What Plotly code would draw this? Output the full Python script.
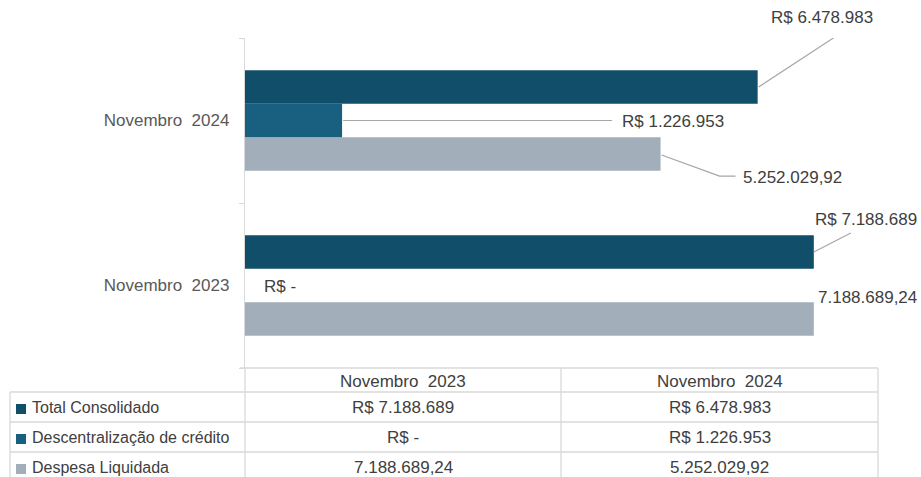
import plotly.graph_objects as go

# dados
meses = ['Novembro  2023', 'Novembro  2024']
total_consolidado = [7188689, 6478983]
descentralizacao = [0, 1226953]
despesa_liquidada = [7188689.24, 5252029.92]

txt_total = ['R$ 7.188.689', 'R$ 6.478.983']
txt_desc = ['R$ -', 'R$ 1.226.953']
txt_despesa = ['7.188.689,24', '5.252.029,92']
series = ['Total Consolidado', 'Descentralização de crédito', 'Despesa Liquidada']

cor_total = '#114e69'
cor_desc = '#195f80'
cor_despesa = '#a2afba'
cores = [cor_total, cor_desc, cor_despesa]
cinza = '#d9d9d9'
fonte = 'Liberation Sans, Arial, sans-serif'

W, H = 921, 477


def px(x):
    return x / W


def py(y):
    return 1 - y / H


bargap = 0.39
w = (1 - bargap) / 3  # largura de cada barra no eixo de categorias

fig = go.Figure()
# a primeira serie fica embaixo no grupo horizontal
fig.add_trace(go.Bar(y=meses, x=despesa_liquidada, orientation='h',
                     marker=dict(color=cor_despesa, line=dict(width=0)),
                     name=series[2], showlegend=False, hoverinfo='skip'))
fig.add_trace(go.Bar(y=meses, x=descentralizacao, orientation='h',
                     marker=dict(color=cor_desc, line=dict(width=0)),
                     name=series[1], showlegend=False, hoverinfo='skip'))
fig.add_trace(go.Bar(y=meses, x=total_consolidado, orientation='h',
                     marker=dict(color=cor_total, line=dict(width=0)),
                     name=series[0], showlegend=False, hoverinfo='skip'))

# rotulos: (valores, textos, deslocamento na categoria, [xshift, yshift, xanchor, linha])
rotulos = [
    (total_consolidado, txt_total, w,
     [(52, 32, 'center', 'M0,0 L37,19'), (64, 69, 'center', 'M1,0 L88,57')]),
    (descentralizacao, txt_desc, 0,
     [(17, -1, 'left', None), (278, -1, 'left', 'M1,0 L270,0')]),
    (despesa_liquidada, txt_despesa, -w,
     [(2, 22, 'left', None), (80, -23, 'left', 'M1,-1 L59,-22 L75,-22')]),
]

for valores, textos, off, cfg in rotulos:
    for i, (v, t) in enumerate(zip(valores, textos)):
        xs, ys, anc, path = cfg[i]
        fig.add_annotation(x=v, y=i + off, xref='x', yref='y', text=t,
                           showarrow=False, xanchor=anc, yanchor='middle',
                           xshift=xs, yshift=ys,
                           font=dict(family=fonte, size=17, color='#404040'))
        if path:
            fig.add_shape(type='path', xref='x', yref='y',
                          xsizemode='pixel', ysizemode='pixel',
                          xanchor=v, yanchor=i + off, path=path,
                          line=dict(color='#a6a6a6', width=1.2))

# tabela de dados (estilo tabela de dados do Excel)
col_x = [10, 245, 561, 878]
row_y = [368, 392, 422, 452, 482]
linha = dict(color=cinza, width=1.3)


def hline(x0, x1, y):
    fig.add_shape(type='line', xref='paper', yref='paper',
                  x0=px(x0), x1=px(x1), y0=py(y), y1=py(y), line=linha)


def vline(x, y0, y1):
    fig.add_shape(type='line', xref='paper', yref='paper',
                  x0=px(x), x1=px(x), y0=py(y0), y1=py(y1), line=linha)


hline(240, col_x[3], row_y[0])
for y in row_y[1:4]:
    hline(col_x[0], col_x[3], y)
vline(col_x[0], row_y[1], row_y[4])
for x in col_x[1:]:
    vline(x, row_y[0], row_y[4])

fonte_tab = dict(family=fonte, size=17, color='#404040')
for j, m in enumerate(meses):
    fig.add_annotation(x=px((col_x[j + 1] + col_x[j + 2]) / 2),
                       y=py((row_y[0] + row_y[1]) / 2 + 1),
                       xref='paper', yref='paper', text=m, showarrow=False,
                       xanchor='center', yanchor='middle', font=fonte_tab)

valores_tab = [[txt_total[0], txt_total[1]],
               [txt_desc[0], txt_desc[1]],
               [txt_despesa[0], txt_despesa[1]]]
for k, s in enumerate(series):
    cy = (row_y[k + 1] + row_y[k + 2]) / 2
    fig.add_shape(type='rect', xref='paper', yref='paper',
                  x0=px(16), x1=px(26), y0=py(cy + 7), y1=py(cy - 3),
                  fillcolor=cores[k], line=dict(width=0))
    fig.add_annotation(x=px(30), y=py(cy), xref='paper', yref='paper',
                       text=s, showarrow=False, xanchor='left', yanchor='middle',
                       font=dict(family=fonte, size=16, color='#404040'))
    for j in range(2):
        fig.add_annotation(x=px((col_x[j + 1] + col_x[j + 2]) / 2), y=py(cy),
                           xref='paper', yref='paper', text=valores_tab[k][j],
                           showarrow=False, xanchor='center', yanchor='middle',
                           font=fonte_tab)

fig.update_layout(
    width=W, height=H,
    margin=dict(l=0, r=0, t=0, b=0),
    paper_bgcolor='white', plot_bgcolor='white',
    barmode='group', bargap=bargap, bargroupgap=0,
    xaxis=dict(domain=[px(245), px(878)], range=[0, 8000000], visible=False),
    yaxis=dict(domain=[py(368), py(38)], type='category', range=[-0.5, 1.5],
               showline=True, linecolor=cinza, linewidth=1.3,
               ticks='outside', tickson='boundaries', ticklen=5,
               tickcolor=cinza, showgrid=False, ticklabelstandoff=11,
               automargin=False,
               tickfont=dict(family=fonte, size=17, color='#595959')),
)

fig.write_html('out.html', config={'displayModeBar': False},
               post_script="document.body.style.margin='0';")
